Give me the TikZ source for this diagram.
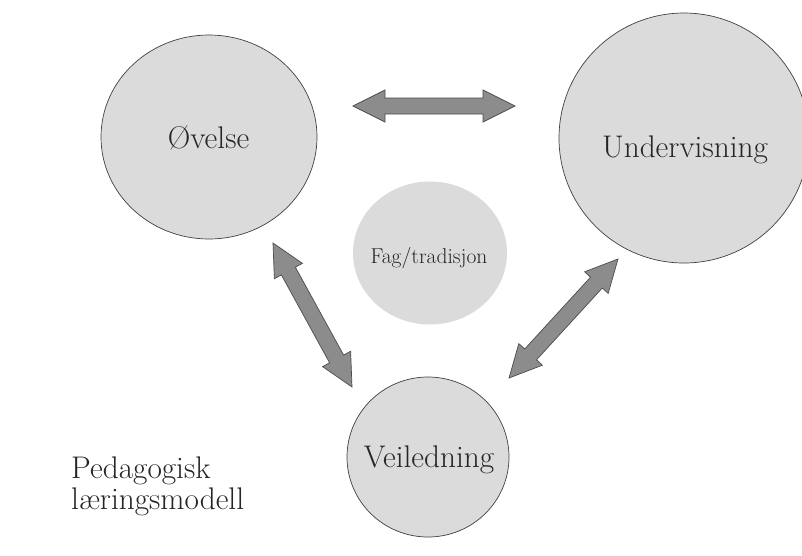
\documentclass[tikz,border=0pt]{standalone}
\usepackage{fontspec}
\setmainfont{Latin Modern Roman}
\usetikzlibrary{calc,shapes.geometric}
\tikzset{
  bubble/.style={ellipse, fill=black!14, draw=black!75, line width=0.7pt, inner sep=0pt},
  bubblenb/.style={ellipse, fill=black!14, inner sep=0pt},
  lbl/.style={anchor=base, inner sep=0pt, text=black!85, font=\fontsize{31.3}{36}\selectfont},
  lblsmall/.style={anchor=base, inner sep=0pt, text=black!85, font=\fontsize{21.5}{26}\selectfont},
  fatarrow/.style={fill=black!45, draw=black!70, line width=0.7pt, line join=miter}
}
\newcommand\fatarrow[2]{%
  \coordinate (fa-p) at ($(#1)!32pt!(#2)$);
  \coordinate (fa-q) at ($(#2)!32pt!(#1)$);
  \filldraw[fatarrow] (#1) -- ($(fa-p)!16pt!90:(#2)$) -- ($(fa-p)!8pt!90:(#2)$)
    -- ($(fa-q)!8pt!-90:(#1)$) -- ($(fa-q)!16pt!-90:(#1)$) -- (#2)
    -- ($(fa-q)!16pt!90:(#1)$) -- ($(fa-q)!8pt!90:(#1)$)
    -- ($(fa-p)!8pt!-90:(#2)$) -- ($(fa-p)!16pt!-90:(#2)$) -- cycle;
}
\begin{document}
\begin{tikzpicture}[x=1pt,y=-1pt]
  \useasboundingbox (0,0) rectangle (802,555);
  \clip (0,0) rectangle (802,555);
  \fill[white] (0,0) rectangle (802,555);
  % circles
  \node[bubble, minimum width=216pt, minimum height=204pt] (ov) at (209,137) {};
  \node[bubble, minimum width=250pt, minimum height=250pt] (un) at (684,138) {};
  \node[bubblenb, minimum width=154pt, minimum height=143pt] (fag) at (430,253) {};
  \node[bubble, minimum width=162pt, minimum height=160pt] (vei) at (428,457) {};
  % labels
  \node[lbl] (tov) at (208.5,148) {Øvelse};
  \node[lbl] (tun) at (685,157) {Undervisning};
  \node[lblsmall] (tfag) at (429,263) {Fag/tradisjon};
  \node[lbl] (tvei) at (429,467) {Veiledning};
  \node[lbl, anchor=base west] (ped) at (71,478) {Pedagogisk};
  \node[lbl, anchor=base west] (ped2) at (71,509) {læringsmodell};
  % arrow end points
  \coordinate (a1) at (353,106);
  \coordinate (a2) at (515,106);
  \coordinate (b1) at (273,243);
  \coordinate (b2) at (352,387);
  \coordinate (c1) at (618,259);
  \coordinate (c2) at (509,378);
  \fatarrow{a1}{a2}
  \fatarrow{b1}{b2}
  \fatarrow{c1}{c2}
\end{tikzpicture}
\end{document}
